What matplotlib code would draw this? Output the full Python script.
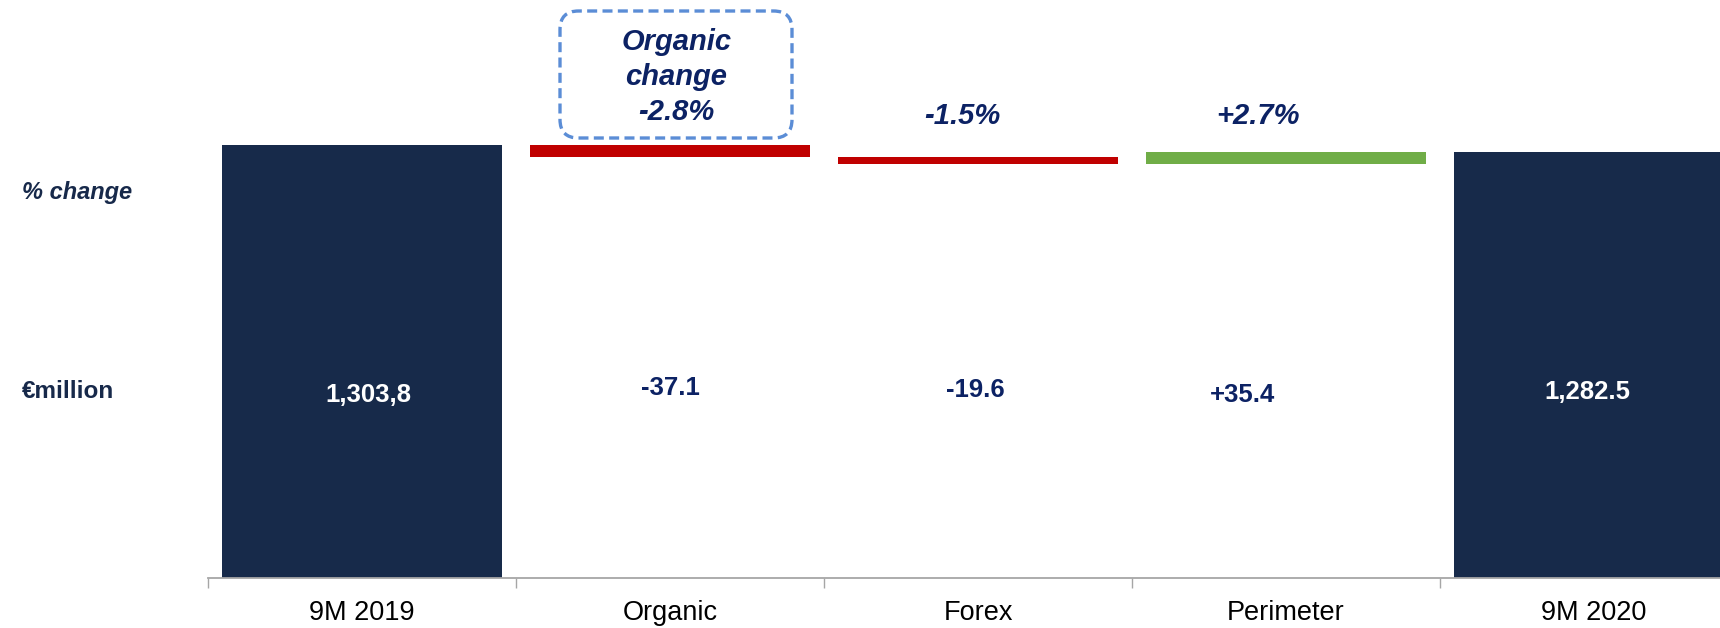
import matplotlib
matplotlib.use("Agg")
import matplotlib.pyplot as plt
from matplotlib.patches import FancyBboxPatch
from matplotlib.ticker import FixedLocator

plt.rcParams['font.family'] = ['Liberation Sans', 'DejaVu Sans']

# ---- data ----
categories = ["9M 2019", "Organic", "Forex", "Perimeter", "9M 2020"]
start_value = 1303.8
deltas = [-37.1, -19.6, 35.4]
end_value = 1282.5
value_labels = ["1,303,8", "-37.1", "-19.6", "+35.4", "1,282.5"]
pct_labels = ["Organic\nchange\n-2.8%", "-1.5%", "+2.7%"]

# ---- style ----
NAVY_BAR = "#172a4a"
NAVY_TXT = "#0c2264"
RED = "#c00000"
GREEN = "#70ad47"
BOX = "#5b8dd6"

W, H, DPI = 1720, 628, 100
fig = plt.figure(figsize=(W / DPI, H / DPI), dpi=DPI)
ax_left_px, ax_bottom_px = 208, 578
px_per_cat = 308
px_per_unit = 0.332
ax = fig.add_axes([ax_left_px / W, (H - ax_bottom_px) / H,
                   (W - ax_left_px) / W, ax_bottom_px / H])
ax.set_xlim(-0.5, -0.5 + (W - ax_left_px) / px_per_cat)
ax.set_ylim(0, ax_bottom_px / px_per_unit)

bw = 0.91
# totals
ax.bar(0, start_value, width=bw, color=NAVY_BAR, zorder=2)
ax.bar(4, end_value, width=bw, color=NAVY_BAR, zorder=2)
# floating bars
level = start_value
colors = [RED if d < 0 else GREEN for d in deltas]
for i, d in enumerate(deltas):
    bottom = level + d if d < 0 else level
    ax.bar(i + 1, abs(d), bottom=bottom, width=bw, color=colors[i], zorder=2)
    level += d

# value labels
val_dx = [0.02, 0.0, -0.01, -0.14, -0.02]
val_y = [552, 572, 567, 551, 559]
for i, lab in enumerate(value_labels):
    col = "white" if i in (0, 4) else NAVY_TXT
    ax.text(i + val_dx[i], val_y[i], lab, ha="center", va="center",
            fontsize=18.5, fontweight="bold", color=col, zorder=3)

# percent labels
pct_x = [1.02, 1.95, 2.91]
pct_y = [1510, 1393, 1393]
for x, y, lab in zip(pct_x, pct_y, pct_labels):
    ax.text(x, y, lab, ha="center", va="center", fontsize=21,
            fontweight="bold", fontstyle="italic", color=NAVY_TXT,
            linespacing=1.32, zorder=3)

# dashed rounded box around organic change
bx0, bx1 = (560 - ax_left_px) / px_per_cat - 0.5, (792 - ax_left_px) / px_per_cat - 0.5
by0, by1 = (ax_bottom_px - 138) / px_per_unit, (ax_bottom_px - 11) / px_per_unit
aspect = px_per_cat / px_per_unit
box = FancyBboxPatch((bx0, by0), bx1 - bx0, by1 - by0,
                     boxstyle="round,pad=0,rounding_size=0.06",
                     mutation_aspect=aspect, fill=False, edgecolor=BOX,
                     linewidth=2.4, linestyle=(0, (3, 1.6)), zorder=3,
                     clip_on=False)
ax.add_patch(box)

# axes styling
for s in ["top", "right", "left"]:
    ax.spines[s].set_visible(False)
ax.spines["bottom"].set_color("#a6a6a6")
ax.spines["bottom"].set_linewidth(1.3)
ax.set_yticks([])
ax.set_xticks(range(len(categories)))
ax.set_xticklabels(categories, fontsize=19.5, color="black")
ax.tick_params(axis="x", which="major", length=0, pad=16)
ax.xaxis.set_minor_locator(FixedLocator([i - 0.5 for i in range(len(categories) + 1)]))
ax.tick_params(axis="x", which="minor", length=7.5, width=1.0, color="#a6a6a6",
               direction="out")

# left-side row labels
fig.text(22 / W, 1 - 193 / H, "% change", ha="left", va="center", fontsize=17,
         fontweight="bold", fontstyle="italic", color="#17294a")
fig.text(22 / W, 1 - 391 / H, "€million", ha="left", va="center", fontsize=17.5,
         fontweight="bold", color="#17294a")

fig.savefig("out.png", dpi=DPI)
